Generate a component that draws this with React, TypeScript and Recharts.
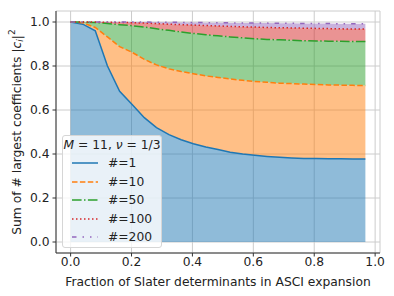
import { ComposedChart, Area, Line, XAxis, YAxis, CartesianGrid } from "recharts";

// fraction of Slater determinants kept in the ASCI expansion
const fractions = [
  0, 0.04, 0.081, 0.121, 0.161, 0.202, 0.242, 0.282, 0.323, 0.363, 0.403, 0.444, 0.484,
  0.524, 0.565, 0.605, 0.645, 0.686, 0.726, 0.766, 0.806, 0.847, 0.887, 0.927, 0.968,
];

const top1 = [
  1.0, 0.99, 0.96, 0.8, 0.685, 0.625, 0.565, 0.52, 0.488, 0.465, 0.447, 0.432, 0.42,
  0.408, 0.4, 0.394, 0.389, 0.385, 0.382, 0.38, 0.379, 0.378, 0.378, 0.377, 0.377,
];
const top10 = [
  1.0, 0.997, 0.975, 0.932, 0.888, 0.862, 0.83, 0.805, 0.787, 0.775, 0.765, 0.755, 0.748,
  0.741, 0.735, 0.73, 0.726, 0.722, 0.72, 0.718, 0.716, 0.714, 0.713, 0.712, 0.711,
];
const top50 = [
  1.0, 1.0, 0.998, 0.993, 0.988, 0.983, 0.977, 0.969, 0.962, 0.955, 0.948, 0.942, 0.937,
  0.932, 0.928, 0.924, 0.921, 0.919, 0.917, 0.915, 0.914, 0.913, 0.912, 0.911, 0.911,
];
const top100 = [
  1.0, 1.0, 1.0, 0.999, 0.998, 0.997, 0.995, 0.993, 0.99, 0.988, 0.986, 0.984, 0.982,
  0.98, 0.978, 0.977, 0.975, 0.974, 0.973, 0.972, 0.971, 0.97, 0.969, 0.968, 0.968,
];
const top200 = [
  1.0, 1.0, 1.0, 1.0, 1.0, 1.0, 1.0, 0.999, 0.999, 0.998, 0.998, 0.997, 0.997,
  0.996, 0.996, 0.995, 0.995, 0.994, 0.994, 0.993, 0.993, 0.993, 0.992, 0.992, 0.992,
];

const xTicks = [0, 0.2, 0.4, 0.6, 0.8, 1.0];
const yTicks = [0, 0.2, 0.4, 0.6, 0.8, 1.0];

const SERIES = [
  { key: "s1", label: "#=1", color: "#1f77b4", dash: undefined as string | undefined },
  { key: "s10", label: "#=10", color: "#ff7f0e", dash: "5.5 2.4" },
  { key: "s50", label: "#=50", color: "#2ca02c", dash: "9.6 2.4 1.5 2.4" },
  { key: "s100", label: "#=100", color: "#d62728", dash: "1.5 2.5" },
  { key: "s200", label: "#=200", color: "#9467bd", dash: "4.5 6 1.5 6 1.5 6" },
];

const FONT = "'DejaVu Sans', sans-serif";
const FS = 12.3;
const INK = "#222";

const data = fractions.map((x, i) => ({
  x,
  s1: top1[i],
  s10: top10[i],
  s50: top50[i],
  s100: top100[i],
  s200: top200[i],
}));

type Row = (typeof data)[number];

function YLabel({ viewBox }: { viewBox?: { x: number; y: number; height: number } }) {
  if (!viewBox) return null;
  const cx = 17;
  const cy = viewBox.y + viewBox.height / 2;
  return (
    <text
      x={cx}
      y={cy}
      transform={`rotate(-90, ${cx}, ${cy})`}
      textAnchor="middle"
      dominantBaseline="central"
      fontFamily={FONT}
      fontSize={FS}
      fill={INK}
    >
      Sum of # largest coefficients |<tspan fontStyle="italic">c</tspan>
      <tspan fontStyle="italic" fontSize={9} dy={3}>i</tspan>
      <tspan dy={-3}>|</tspan>
      <tspan fontSize={9} dy={-5}>2</tspan>
    </text>
  );
}

function LegendBox() {
  return (
    <div
      style={{
        position: "absolute",
        left: 62,
        top: 135,
        width: 100,
        height: 113,
        boxSizing: "border-box",
        background: "rgba(255,255,255,0.8)",
        border: "1px solid #d6d6d6",
        borderRadius: 3,
        fontFamily: FONT,
        fontSize: FS,
        color: INK,
      }}
    >
      <div
        style={{
          position: "absolute",
          top: 1,
          left: 0,
          width: "100%",
          lineHeight: "17px",
          textAlign: "center",
          whiteSpace: "nowrap",
        }}
      >
        <i>M</i> = 11, <i>ν</i> = 1/3
      </div>
      {SERIES.map((s, i) => (
        <div
          key={s.key}
          style={{
            position: "absolute",
            left: 8,
            top: 19 + i * 18.5,
            height: 16,
            display: "flex",
            alignItems: "center",
          }}
        >
          <svg width={27} height={16} style={{ display: "block" }}>
            <line x1={1} y1={8} x2={27} y2={8} stroke={s.color} strokeWidth={1.5} strokeDasharray={s.dash} />
          </svg>
          <span style={{ marginLeft: 10, whiteSpace: "nowrap" }}>{s.label}</span>
        </div>
      ))}
    </div>
  );
}

export default function App() {
  const bands: { lo: keyof Row | null; hi: keyof Row; color: string }[] = [
    { lo: null, hi: "s1", color: "#1f77b4" },
    { lo: "s1", hi: "s10", color: "#ff7f0e" },
    { lo: "s10", hi: "s50", color: "#2ca02c" },
    { lo: "s50", hi: "s100", color: "#d62728" },
    { lo: "s100", hi: "s200", color: "#9467bd" },
  ];

  return (
    <div style={{ position: "absolute", left: 0, top: 0, width: 394, height: 296, background: "#fff" }}>
      <ComposedChart
        width={394}
        height={296}
        data={data}
        margin={{ top: 11, right: 14, bottom: 0, left: 0 }}
      >
        <CartesianGrid stroke="#cccccc" strokeWidth={1} />

        <XAxis
          dataKey="x"
          type="number"
          domain={[-0.048, 1.016]}
          allowDataOverflow
          ticks={xTicks}
          tickFormatter={(v: number) => v.toFixed(1)}
          height={43}
          tickSize={3.5}
          tickMargin={1}
          stroke="#333"
          tick={{ fill: INK, fontSize: FS, fontFamily: FONT }}
          label={{
            value: "Fraction of Slater determinants in ASCI expansion",
            position: "insideBottom",
            offset: 10,
            fill: INK,
            fontSize: FS,
            fontFamily: FONT,
          }}
        />
        <XAxis xAxisId="top" orientation="top" dataKey="x" type="number" height={0} tick={false} tickLine={false} stroke="#333" />

        <YAxis
          type="number"
          domain={[-0.05, 1.05]}
          allowDataOverflow
          ticks={yTicks}
          tickFormatter={(v: number) => v.toFixed(1)}
          width={56}
          tickSize={3.5}
          tickMargin={3}
          stroke="#333"
          tick={{ fill: INK, fontSize: FS, fontFamily: FONT }}
          label={{ content: (p: any) => <YLabel viewBox={p.viewBox} /> }}
        />
        <YAxis yAxisId="right" orientation="right" width={0} tick={false} tickLine={false} stroke="#333" />

        {bands.map((b) => (
          <Area
            key={`band-${b.hi}`}
            type="linear"
            dataKey={(d: Row) => [b.lo ? (d[b.lo] as number) : 0, d[b.hi] as number]}
            stroke="none"
            fill={b.color}
            fillOpacity={0.5}
            isAnimationActive={false}
            activeDot={false}
          />
        ))}

        {SERIES.map((s) => (
          <Line
            key={s.key}
            type="linear"
            dataKey={s.key}
            stroke={s.color}
            strokeWidth={1.5}
            strokeDasharray={s.dash}
            dot={false}
            activeDot={false}
            isAnimationActive={false}
          />
        ))}
      </ComposedChart>
      <LegendBox />
    </div>
  );
}
